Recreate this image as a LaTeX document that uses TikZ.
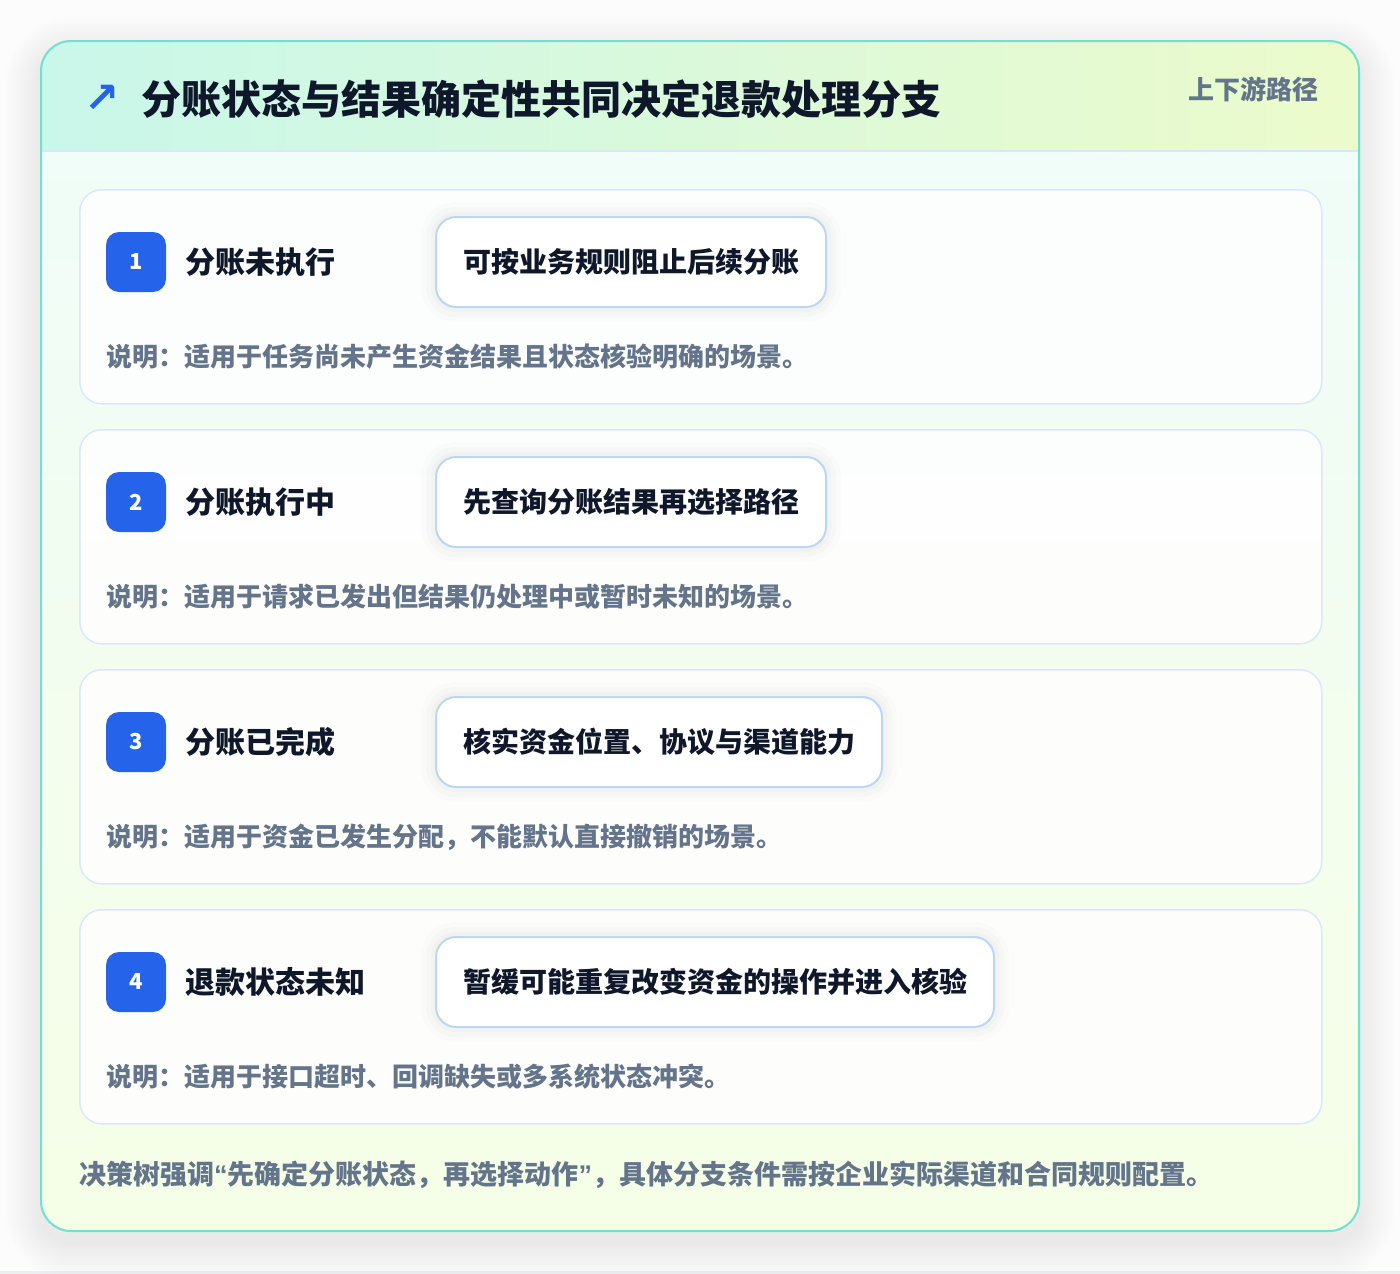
\documentclass[tikz,border=0pt]{standalone}
\usepackage{fontspec}
\setmainfont{Noto Sans CJK SC}
\newfontfamily\symbolfont{DejaVu Sans}
\newfontfamily\latinfont{Liberation Sans}
\usetikzlibrary{positioning}

\definecolor{pageWhite}{HTML}{FCFCFC}
\definecolor{pageEdge}{HTML}{ECEEF1}
\definecolor{cardEdge}{HTML}{6EE2CF}
\definecolor{headLeft}{HTML}{C9F7EA}
\definecolor{headRight}{HTML}{ECFBCB}
\definecolor{bodyTop}{HTML}{F0FDF8}
\definecolor{bodyBottom}{HTML}{F5FEE6}
\definecolor{headLine}{HTML}{DBE7F8}
\definecolor{rowEdge}{HTML}{DBE8FB}
\definecolor{actionEdge}{HTML}{BCD6F5}
\definecolor{badgeBlue}{HTML}{2563EB}
\definecolor{inkDark}{HTML}{0F172A}
\definecolor{inkGray}{HTML}{64748B}

\begin{document}
\begin{tikzpicture}
[x=1pt,y=-1pt,%
  rowDecorate/.style={draw=rowEdge,line width=1.5pt,fill=white,fill opacity=0.85,
    rounded corners=22pt,minimum width=1242pt,minimum height=214pt,anchor=north west},%
  badgeDecorate/.style={fill=badgeBlue,text=white,rounded corners=13pt,minimum size=60pt,
    inner sep=0pt,font=\bfseries\fontsize{22}{22}\selectfont},%
  titleDecorate/.style={text=inkDark,inner sep=0pt,font=\bfseries\fontsize{30}{36}\selectfont},%
  haloDecorate/.style={preaction={draw=black,draw opacity=0.012,line width=30pt},
    preaction={draw=black,draw opacity=0.014,line width=20pt},
    preaction={draw=black,draw opacity=0.016,line width=10pt}},%
  actionDecorate/.style={haloDecorate,draw=actionEdge,line width=2pt,fill=white,rounded corners=20pt,
    minimum height=90pt,inner xsep=27pt,text=inkDark,font=\bfseries\fontsize{28}{34}\selectfont},%
  noteDecorate/.style={text=inkGray,inner sep=0pt,font=\bfseries\fontsize{26}{30}\selectfont},%
  footerDecorate/.style={text=inkGray,inner sep=0pt,font=\bfseries\fontsize{27}{32}\selectfont}]
%% page and card
\useasboundingbox (0,0) rectangle (1400,1274);
\fill[pageWhite] (0,0) rectangle (1400,1274);
\fill[pageEdge] (0,1271) rectangle (1400,1274);
\foreach \s in {2,4,...,36}
{
  \fill[black,opacity=0.0035,rounded corners=30pt+\s pt] (41-\s,41-\s+12) rectangle (1359+\s,1231+\s+12);
}
\fill[white,rounded corners=30pt] (41,41) rectangle (1359,1231);
\begin{scope}
  \clip[rounded corners=30pt] (41,41) rectangle (1359,1231);
  \shade[left color=headLeft,right color=headRight] (41,41) rectangle (1359,151);
  \shade[top color=bodyTop,bottom color=bodyBottom] (41,151) rectangle (1359,1231);
  \draw[headLine,line width=1.5pt] (41,151) -- (1359,151);
\end{scope}
\draw[cardEdge,line width=2pt,rounded corners=30pt] (41,41) rectangle (1359,1231);
%% header
\node (icon) at (102,99) [text=badgeBlue,inner sep=0pt,font=\symbolfont\bfseries\fontsize{42}{42}\selectfont] {↗};
\node (heading) at (141,99) [anchor=west,text=inkDark,inner sep=0pt,font=\bfseries\fontsize{40}{48}\selectfont] {分账状态与结果确定性共同决定退款处理分支};
\node (tag) at (1319,89) [anchor=east,text=inkGray,inner sep=0pt,font=\bfseries\fontsize{26}{30}\selectfont] {上下游路径};
%% rows
\foreach \n/\title/\action/\note in {
  1/分账未执行/可按业务规则阻止后续分账/说明：适用于任务尚未产生资金结果且状态核验明确的场景。,
  2/分账执行中/先查询分账结果再选择路径/说明：适用于请求已发出但结果仍处理中或暂时未知的场景。,
  3/分账已完成/核实资金位置、协议与渠道能力/说明：适用于资金已发生分配，不能默认直接撤销的场景。,
  4/退款状态未知/暂缓可能重复改变资金的操作并进入核验/说明：适用于接口超时、回调缺失或多系统状态冲突。}
{
  \pgfmathsetmacro\top{189+240*(\n-1)}
  \node (row\n) at (79,\top) [rowDecorate] {};
  \node (badge\n) at (136,{\top+73}) [badgeDecorate] {\n};
  \node (title\n) [titleDecorate,right=19pt of badge\n] {\title};
  \node (action\n) at (435,{\top+73}) [actionDecorate,anchor=west] {\action};
  \node (note\n) at (106,{\top+168}) [noteDecorate,anchor=west] {\note};
}
%% footer
\node (footer) at (79,1175) [footerDecorate,anchor=west] {决策树强调{\latinfont\bfseries “}先确定分账状态，再选择动作{\latinfont\bfseries ”}，具体分支条件需按企业实际渠道和合同规则配置。};
\end{tikzpicture}
\end{document}
